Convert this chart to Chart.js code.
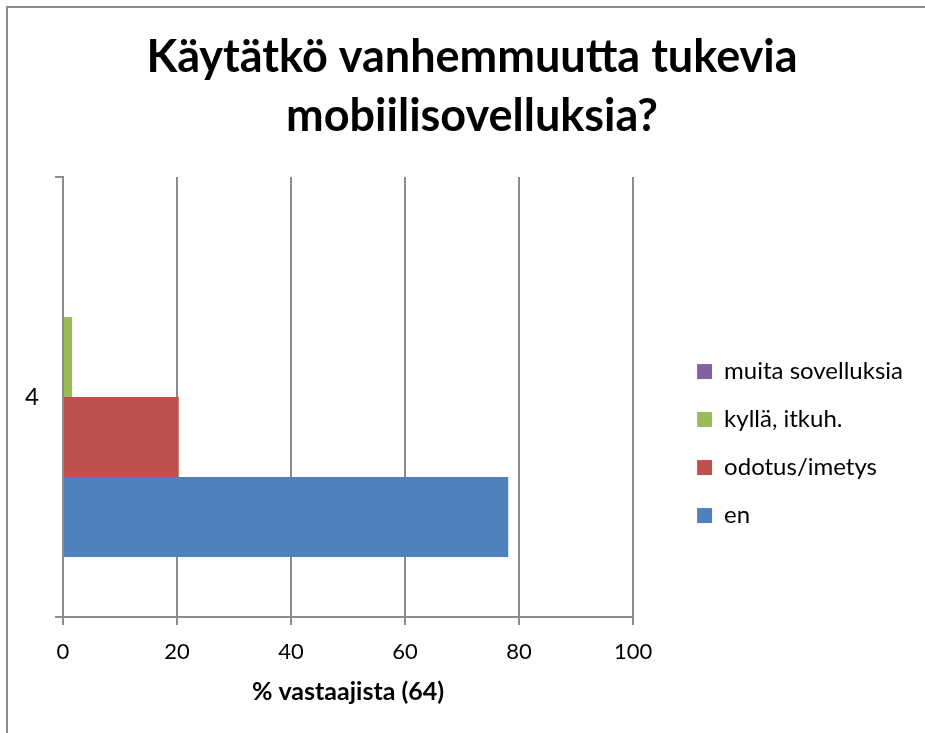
<!DOCTYPE html>
<html>
<head>
<meta charset="utf-8">
<script src="https://cdn.jsdelivr.net/npm/chart.js@4.4.0/dist/chart.umd.min.js"></script>
<style>
  body { margin: 0; background: #fff; }
  #wrap { position: relative; width: 925px; height: 733px; }
  #frame { position: absolute; left: 6px; top: 6px; right: 0; bottom: 0;
           border-left: 2px solid #8c8c8c; border-top: 2px solid #8c8c8c; pointer-events: none; }
</style>
</head>
<body>
<div id="wrap">
  <canvas id="chart" width="925" height="733"></canvas>
  <div id="frame"></div>
</div>
<script>
// Chart data
const titleLines = ['Käytätkö vanhemmuutta tukevia', 'mobiilisovelluksia?'];
const categories = ['4'];
const seriesNames = ['muita sovelluksia', 'kyllä, itkuh.', 'odotus/imetys', 'en'];
const seriesColors = ['#8064A2', '#9BBB59', '#C0504D', '#4F81BD'];
const muitaValues = [0];
const kyllaValues = [1.6];
const odotusValues = [20.3];
const enValues = [78.1];
const xTicks = [0, 20, 40, 60, 80, 100];
const xTitle = '% vastaajista (64)';

const gridGray = '#8c8c8c';
Chart.defaults.font.family = 'Lato';
Chart.defaults.color = '#000';

// legend geometry: box left edge at ~697, plot ends at ~633
const legendFont = 24;
const legendPad = 24;
const m = document.createElement('canvas').getContext('2d');
m.font = legendFont + 'px Lato';
const textW = Math.max(...seriesNames.map((n) => m.measureText(n).width));
const legendW = Math.ceil(legendPad + 15 + legendFont / 2 + textW + 10);
const legendLeft = 697 - legendPad;
const padRight = Math.max(0, 925 - legendLeft - legendW);
const padLeft = padRight + 19;   // keeps the title centred a bit right, like the original

const seriesValues = [muitaValues, kyllaValues, odotusValues, enValues];
const datasets = seriesNames.map((name, i) => ({
  label: name,
  data: seriesValues[i],
  backgroundColor: seriesColors[i],
  borderWidth: 0,
  barPercentage: 1,
  categoryPercentage: 0.727,
  xAxisID: 'x',
  yAxisID: 'y'
}));

new Chart(document.getElementById('chart'), {
  type: 'bar',
  data: { labels: categories, datasets: datasets },
  options: {
    indexAxis: 'y',
    responsive: false,
    animation: false,
    layout: { padding: { left: padLeft, right: padRight, top: 0, bottom: 0 } },
    plugins: {
      tooltip: { enabled: false },
      title: {
        display: true,
        text: titleLines,
        color: '#000',
        font: { size: 45, weight: 'bold', lineHeight: 1.31 },
        padding: { top: 28, bottom: 31 }
      },
      legend: {
        position: 'right',
        fullSize: false,
        maxWidth: 400,
        title: { display: true, text: ' ', padding: { top: 92, bottom: 0 }, font: { size: 1 } },
        labels: { boxWidth: 15, boxHeight: 15, padding: legendPad, color: '#000', font: { size: legendFont } }
      }
    },
    scales: {
      x: {
        type: 'linear',
        min: 0,
        max: 100,
        afterBuildTicks: (s) => { s.ticks = xTicks.map((v) => ({ value: v })); },
        ticks: { padding: 14, color: '#000', font: { size: 22 } },
        grid: { color: gridGray, lineWidth: 2, tickLength: 8 },
        border: { display: true, color: gridGray, width: 2 },
        title: { display: true, text: xTitle, color: '#000', font: { size: 25, weight: 'bold' }, padding: { top: 4, bottom: 26 } },
        afterFit: (s) => { s.height = 116; }
      },
      y: {
        type: 'category',
        offset: true,
        grid: { offset: true, drawOnChartArea: false, drawTicks: true, tickLength: 8, color: gridGray, lineWidth: 2 },
        border: { display: true, color: gridGray, width: 2 },
        // mirrored with negative padding so the label is not clipped by the narrow axis box
        ticks: { mirror: true, padding: 25 - 63, color: '#000', font: { size: 24 } },
        afterFit: (s) => { s.width = 63 - padLeft; }
      },
      // empty spacer between plot and legend
      gap: {
        type: 'linear',
        position: 'right',
        display: true,
        grid: { display: false },
        ticks: { display: false },
        border: { display: false },
        afterFit: (s) => { s.width = legendLeft - 633; }
      }
    }
  }
});
</script>
</body>
</html>
